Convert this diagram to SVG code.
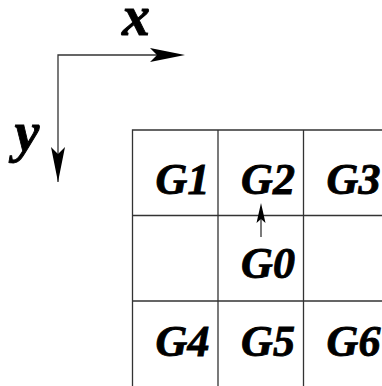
<svg xmlns="http://www.w3.org/2000/svg" width="382" height="386" viewBox="0 0 382 386">
<style>
.ln{fill:none;stroke:#333;stroke-width:1.3}
.ah{fill:#000;stroke:none}
.lbl{font-family:"Liberation Serif","Times New Roman",serif;font-weight:bold;font-style:italic;fill:#000;stroke:#000;stroke-width:0.9}
.g{font-size:44px;text-anchor:middle}
.ax{font-size:56px;text-anchor:middle}
</style>
<rect width="382" height="386" fill="#fff"/>
<g id="axes">
<path class="ln" d="M58,182 V55 H180"/>
<path class="ah" d="M185,55 L150,48 L157,55 L150,62 Z"/>
<path class="ah" d="M58,182 L51,147 L58,154 L65,147 Z"/>
<text class="lbl ax" x="136" y="35">x</text>
<text class="lbl ax" x="27" y="151">y</text>
</g>
<g id="grid">
<path class="ln" d="M132.5,386 V130 H390 M218,130 V386 M303.5,130 V386 M132.5,215.5 H390 M132.5,301 H390"/>
</g>
<g id="G1"><text class="lbl g" x="182.5" y="194">G1</text></g>
<g id="G2"><text class="lbl g" x="268" y="194">G2</text></g>
<g id="G3"><text class="lbl g" x="353.5" y="194">G3</text></g>
<g id="G0"><text class="lbl g" x="268" y="278">G0</text></g>
<g id="G4"><text class="lbl g" x="182.5" y="356">G4</text></g>
<g id="G5"><text class="lbl g" x="268" y="356">G5</text></g>
<g id="G6"><text class="lbl g" x="353.5" y="356">G6</text></g>
<g id="connectors">
<path class="ln" d="M261,237 V212"/>
<path class="ah" d="M261,203 L256.5,223 L261,219 L265.5,223 Z"/>
</g>
</svg>
